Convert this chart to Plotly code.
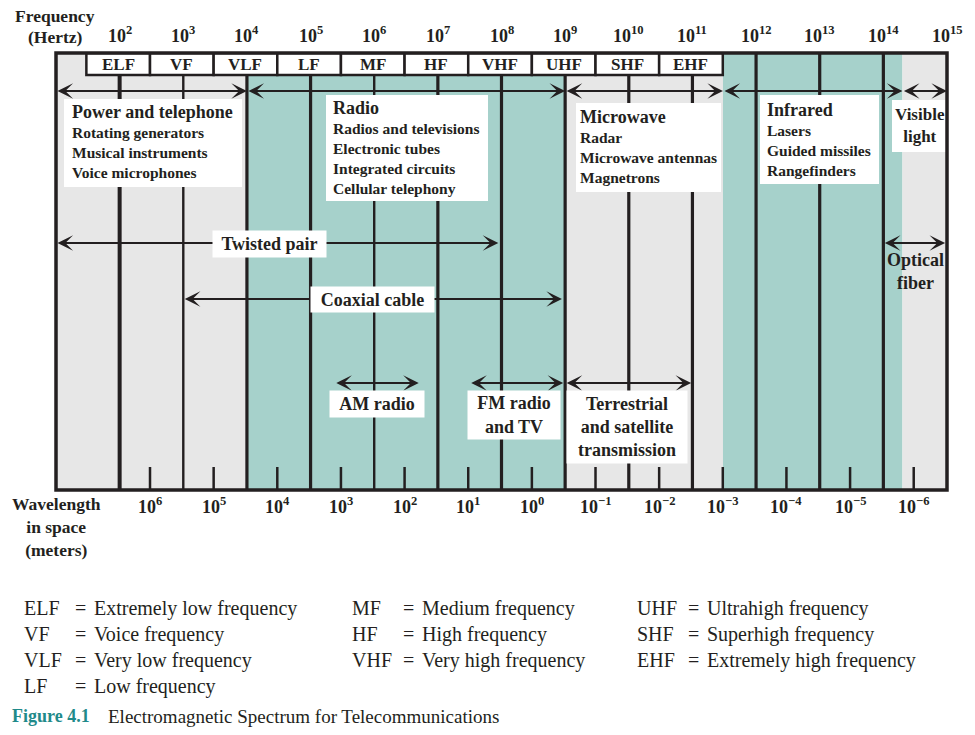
import math
import plotly.graph_objects as go

# frequency decades along the top (exponent of 10 Hz)
freq_exp = list(range(2, 16))
# wavelength decades along the bottom (exponent of 10 m)
wave_exp = [6, 5, 4, 3, 2, 1, 0, -1, -2, -3, -4, -5, -6]

# radio bands, their edges given as wavelength exponents
bands = ["ELF", "VF", "VLF", "LF", "MF", "HF", "VHF", "UHF", "SHF", "EHF"]
band_names = ["Extremely low frequency", "Voice frequency", "Very low frequency",
              "Low frequency", "Medium frequency", "High frequency",
              "Very high frequency", "Ultrahigh frequency", "Superhigh frequency",
              "Extremely high frequency"]
band_wave_edges = [7, 6, 5, 4, 3, 2, 1, 0, -1, -2, -3]

# parts of the spectrum (edges are log10 of frequency)
parts = ["Power and telephone", "Radio", "Microwave", "Infrared", "Visible<br>light"]
part_items = [["Rotating generators", "Musical instruments", "Voice microphones"],
              ["Radios and televisions", "Electronic tubes", "Integrated circuits",
               "Cellular telephony"],
              ["Radar", "Microwave antennas", "Magnetrons"],
              ["Lasers", "Guided missiles", "Rangefinders"],
              []]
part_edges = [1, 4, 9, 11.48, 14.3, 15]

# guided media, log10 of frequency
media = ["Twisted pair", "Coaxial cable", "Optical<br>fiber"]
media_lo = [1, 3, 14]
media_hi = [7.95, 8.95, 14.97]

# applications, log10 of frequency
uses = ["AM radio", "FM radio<br>and TV", "Terrestrial<br>and satellite<br>transmission"]
uses_lo = [5.38, 7.5, 9.0]
uses_hi = [6.7, 8.97, 10.98]

LOG_C = math.log10(3e8)  # f = c / wavelength

TEAL = "#a6d1cb"
GREY = "#e7e7e7"
INK = "#231f20"
FONT = "Liberation Serif"
TOP, BOT = 53, 490
LEFT, PLOT_W = 56, 891


def px(x):
    # page pixel -> log10 frequency
    return 1 + (x - LEFT) / (PLOT_W / 14)


shapes = []
ann = []


def text(x, y, t, size=18, bold=True, **kw):
    # x in log10 frequency, y in page pixels; placed on paper so nothing is hidden
    d = dict(x=(x - 1) / 14, y=(BOT - y) / (BOT - TOP), xref="paper", yref="paper",
             xanchor="center", yanchor="middle",
             showarrow=False, text=f"<b>{t}</b>" if bold else t,
             font=dict(family=FONT, size=size, color=kw.pop("color", INK)))
    d.update(kw)
    ann.append(d)


def arrow(x0, x1, y):
    ann.append(dict(x=x1, y=y, ax=x0, ay=y, xref="x", yref="y", axref="x", ayref="y",
                    text="", showarrow=True, arrowhead=3, startarrowhead=3,
                    arrowside="end+start", arrowsize=1.3, startarrowsize=1.3,
                    arrowwidth=2, arrowcolor=INK, standoff=0, startstandoff=0))


# backgrounds
for i in range(len(parts)):
    shapes.append(dict(type="rect", x0=part_edges[i], x1=part_edges[i + 1], y0=TOP, y1=BOT,
                       fillcolor=TEAL if i % 2 else GREY, line_width=0))

# decade lines
line_w = {2: 4, 3: 2.4, 6: 2.4}
for e in range(2, 15):
    shapes.append(dict(type="line", x0=e, x1=e, y0=TOP, y1=BOT,
                       line=dict(color=INK, width=line_w.get(e, 3.2))))

# wavelength ticks
for k in wave_exp:
    shapes.append(dict(type="line", x0=LOG_C - k, x1=LOG_C - k, y0=467, y1=BOT,
                       line=dict(color=INK, width=2.5)))

# band label row
for i, b in enumerate(bands):
    x0 = LOG_C - band_wave_edges[i]
    x1 = LOG_C - band_wave_edges[i + 1]
    shapes.append(dict(type="rect", x0=x0, x1=x1, y0=TOP, y1=75, fillcolor="white",
                       line=dict(color=INK, width=2.5)))
    text((x0 + x1) / 2, 64.5, b, size=17)

# part boxes: x0, y0, x1, y1, text x, heading y
part_boxes = [(64, 99, 242, 187, 70, 112), (326, 95, 488, 201, 331, 108),
              (576, 103, 721, 192, 578, 117), (760, 95, 879, 184, 765, 110),
              (892, 100, 947, 152, 919.5, 125)]
for i, p in enumerate(parts):
    x0, y0, x1, y1, tx, ty = part_boxes[i]
    shapes.append(dict(type="rect", x0=px(x0), x1=px(x1), y0=y0, y1=y1,
                       fillcolor="white", line_width=0))
    if part_items[i]:
        text(px(tx), ty, p, size=18, xanchor="left")
        for j, it in enumerate(part_items[i]):
            text(px(tx), ty + 20 * (j + 1), it, size=15.5, xanchor="left")
    else:
        text(px(tx), ty, p, size=17)
    arrow(part_edges[i], part_edges[i + 1], 91)

# outer frame
shapes.append(dict(type="rect", xref="paper", yref="paper", x0=0, x1=1, y0=0, y1=1,
                   line=dict(color=INK, width=3.5)))

# media and applications
media_y = [243, 299, 243]
media_box = [(269.5, 244, 113, 26), (372.5, 299.5, 123, 25), (915, 271, None, None)]
for i, m in enumerate(media):
    arrow(media_lo[i], media_hi[i], media_y[i])
    cx, cy, w, h = media_box[i]
    if w:
        text(px(cx), cy, m, bgcolor="white", width=w, height=h, borderpad=0)
    else:
        text(px(cx), cy, m)

use_box = [(377, 404, 94, 26), (514, 415, 92, 48), (627, 427, 120, 72)]
for i, u in enumerate(uses):
    arrow(uses_lo[i], uses_hi[i], 383)
    cx, cy, w, h = use_box[i]
    text(px(cx), cy, u, bgcolor="white", width=w, height=h, borderpad=0)

# axis labels
text(px(55), 16, "Frequency", size=17.5)
text(px(55), 37, "(Hertz)", size=17.5)
for e in freq_exp:
    text(e, 35, f"10<sup>{e}</sup>", size=18)
text(px(56), 527, "Wavelength<br>in space<br>(meters)", size=17.5)
for k in wave_exp:
    s = str(k).replace("-", "\u2212")
    text(LOG_C - k, 505, f"10<sup>{s}</sup>", size=18)

# key
cols_x = [22, 350, 635]
rows_y = [608, 634, 660, 686]
col_of = [0, 0, 0, 0, 1, 1, 1, 2, 2, 2]
row_of = [0, 1, 2, 3, 0, 1, 2, 0, 1, 2]
for i, b in enumerate(bands):
    x = cols_x[col_of[i]]
    y = rows_y[row_of[i]]
    text(px(x), y, b, size=20, bold=False, xanchor="left")
    text(px(x + 51), y, "=", size=20, bold=False, xanchor="left")
    text(px(x + 70), y, band_names[i], size=20, bold=False, xanchor="left")

text(px(10), 716, "Figure 4.1", size=18, xanchor="left", color="#1f8a8a")
text(px(106), 716, "Electromagnetic Spectrum for Telecommunications", size=19,
     bold=False, xanchor="left")

fig = go.Figure()
fig.update_layout(
    width=975, height=735,
    margin=dict(l=LEFT, r=975 - LEFT - PLOT_W, t=TOP, b=735 - BOT),
    paper_bgcolor="white", plot_bgcolor="white",
    xaxis=dict(range=[1, 15], visible=False, fixedrange=True),
    yaxis=dict(range=[BOT, TOP], visible=False, fixedrange=True),
    shapes=shapes, annotations=ann, showlegend=False,
)

fig.write_html("out.html", config={"displayModeBar": False},
               post_script="document.body.style.margin='0px';")
